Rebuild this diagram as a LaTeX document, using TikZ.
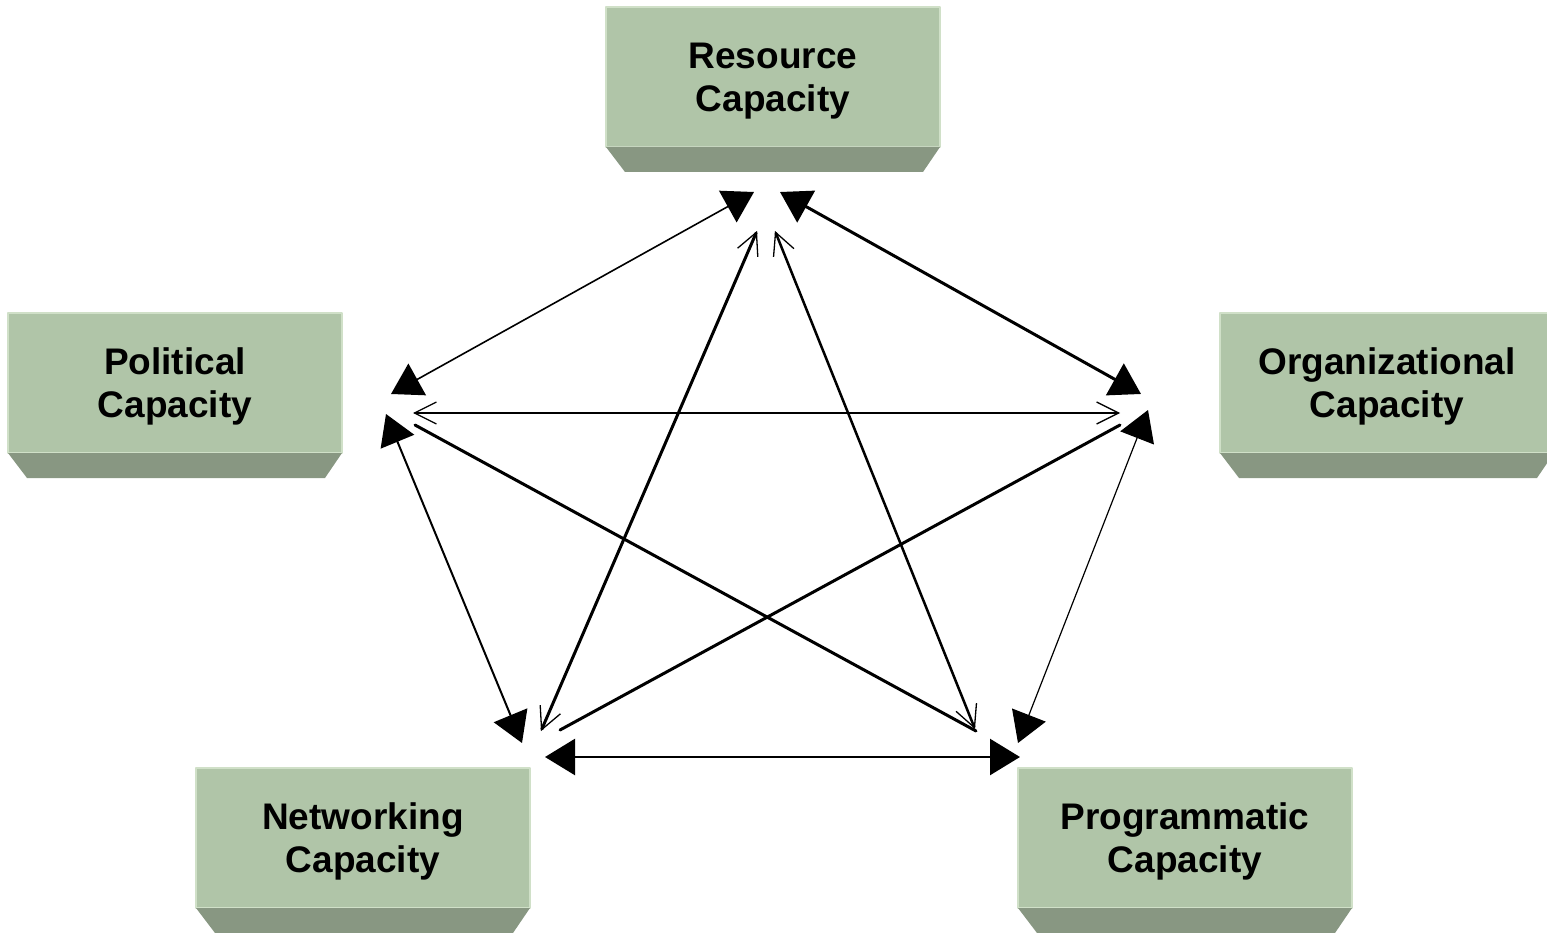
\documentclass[tikz,border=0pt]{standalone}
\usepackage{fontspec}
\setmainfont{Liberation Sans}
\usepackage{tikz}
\usetikzlibrary{arrows.meta}
\definecolor{boxface}{RGB}{176,197,168}
\definecolor{boxshade}{RGB}{136,151,130}
\definecolor{boxedge}{RGB}{208,224,200}
\tikzset{
  capbox/.style={fill=boxface,draw=boxedge,line width=1.2pt,minimum width=334pt,minimum height=140pt,
    inner sep=0pt,outer sep=0pt,text depth=0pt,align=center,font=\fontsize{37}{43}\selectfont\bfseries},
  solidheads/.style={{Triangle[length=30pt,width=36pt]}-{Triangle[length=30pt,width=36pt]}},
  barbheads/.style={{Straight Barb[length=22pt,width=22pt,line width=1.3pt]}-{Straight Barb[length=22pt,width=22pt,line width=1.3pt]}}
}

\begin{document}
\begin{tikzpicture}[line cap=round,line join=round,x=1pt,y=-1pt]
\useasboundingbox (0,0) rectangle (1547,933);
\clip (0,0) rectangle (1547,933);
\node[capbox] (res) at (773,77) {Resource\\Capacity};
\node[capbox] (pol) at (175,383) {Political\\Capacity};
\node[capbox] (org) at (1387,383) {Organizational\\Capacity};
\node[capbox] (net) at (363,838) {Networking\\Capacity};
\node[capbox] (pro) at (1185,838) {Programmatic\\Capacity};
\fill[boxshade] (res.south west) -- ++(19,25) -- ++(298,0) -- (res.south east) -- cycle;
\fill[boxshade] (pol.south west) -- ++(19,25) -- ++(298,0) -- (pol.south east) -- cycle;
\fill[boxshade] (org.south west) -- ++(19,25) -- ++(298,0) -- (org.south east) -- cycle;
\fill[boxshade] (net.south west) -- ++(19,25) -- ++(298,0) -- (net.south east) -- cycle;
\fill[boxshade] (pro.south west) -- ++(19,25) -- ++(298,0) -- (pro.south east) -- cycle;
\coordinate (res-a) at (754,192);
\coordinate (res-b) at (780,192);
\coordinate (res-c) at (757,231);
\coordinate (res-d) at (775,231);
\coordinate (pol-a) at (391,394);
\coordinate (pol-b) at (413,413);
\coordinate (pol-c) at (415,425);
\coordinate (pol-d) at (386,414);
\coordinate (org-a) at (1141,394);
\coordinate (org-b) at (1120,413);
\coordinate (org-c) at (1120,425);
\coordinate (org-d) at (1148,410);
\coordinate (net-a) at (522,743);
\coordinate (net-b) at (541,731);
\coordinate (net-c) at (560,730);
\coordinate (net-d) at (545,757);
\coordinate (pro-a) at (975,729);
\coordinate (pro-b) at (976,731);
\coordinate (pro-c) at (1018,743);
\coordinate (pro-d) at (1020,757);
\draw [solidheads,line width=1.6pt] (res-a) -- (pol-a);
\draw [solidheads,line width=3pt] (res-b) -- (org-a);
\draw [barbheads,line width=2pt] (pol-b) -- (org-b);
\draw [solidheads,line width=2pt] (pol-d) -- (net-a);
\draw [solidheads,line width=1.2pt] (org-d) -- (pro-c);
\draw [solidheads,line width=2.5pt] (net-d) -- (pro-d);
\draw [barbheads,line width=3pt] (res-c) -- (net-b);
\draw [barbheads,line width=2.5pt] (res-d) -- (pro-a);
\draw [line width=3pt] (pol-c) -- (pro-b);
\draw [line width=3pt] (org-c) -- (net-c);
\end{tikzpicture}
\end{document}
